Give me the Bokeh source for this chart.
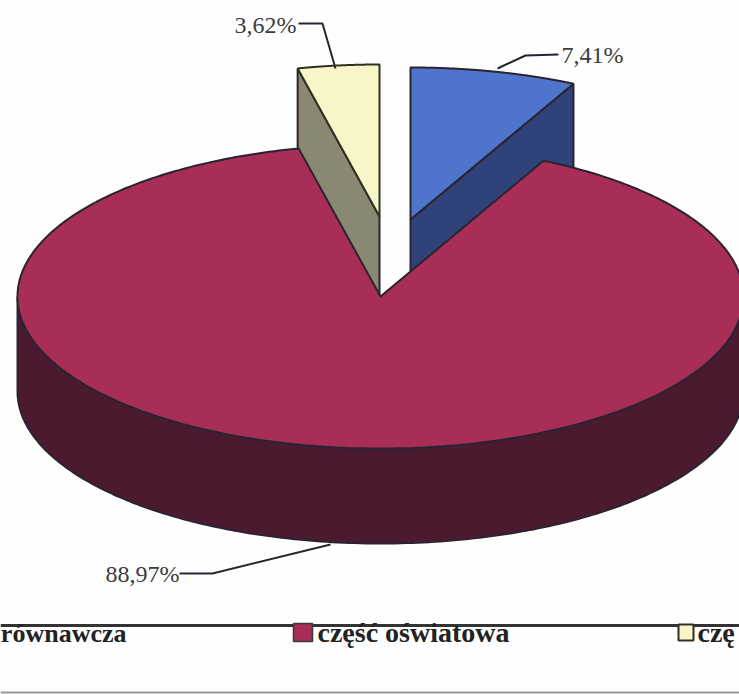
import numpy as np
from bokeh.plotting import figure
from bokeh.models import Range1d
from bokeh.core.properties import value
from bokeh.embed import file_html
from bokeh.resources import INLINE

# data
categories = ["część wyrównawcza", "część oświatowa", "część"]
shares = [7.41, 88.97, 3.62]
share_labels = ["7,41%", "88,97%", "3,62%"]

# colours
TOP = ["#4f74cc", "#a82d57", "#f8f6c9"]
CUT = ["#2f4279", "#4c1a30", "#8a8873"]
EDGE = "#2b2430"
TXT = "#3c3c3c"

# projection of the pie on the page
RX, RY, DEPTH = 363, 152, 95
CENTER = (380, 296)
OFFSET = [(30, -77), None, (-1, -80)]

p = figure(width=739, height=694, output_backend="svg", toolbar_location=None,
           x_range=Range1d(0, 739), y_range=Range1d(694, 0),
           x_axis_type=None, y_axis_type=None, min_border=0,
           outline_line_color=None, background_fill_color="#fefefe",
           border_fill_color="#fefefe")
p.grid.visible = False

ends = np.cumsum(shares) / sum(shares) * 2 * np.pi
starts = np.concatenate([[0], ends[:-1]])


def pt(c, a):
    a = np.asarray(a, dtype=float)
    return c[0] + RX * np.sin(a), c[1] - RY * np.cos(a)


def arc(c, a0, a1, n=200):
    return pt(c, np.linspace(a0, a1, n))


c = (CENTER[0] + OFFSET[0][0], CENTER[1] + OFFSET[0][1])
ex, ey = pt(c, ends[0])
p.patch([c[0], ex, ex, c[0]], [c[1], ey, ey + DEPTH, c[1] + DEPTH],
        fill_color=CUT[0], line_color=EDGE, line_width=2)
ax, ay = arc(c, starts[0], ends[0])
p.patch(np.r_[c[0], ax], np.r_[c[1], ay], fill_color=TOP[0], line_color=EDGE, line_width=2)

c = (CENTER[0] + OFFSET[2][0], CENTER[1] + OFFSET[2][1])
sx, sy = pt(c, starts[2])
p.patch([c[0], sx, sx, c[0]], [c[1], sy, sy + DEPTH, c[1] + DEPTH],
        fill_color=CUT[2], line_color=EDGE, line_width=2)
ax, ay = arc(c, starts[2], ends[2])
p.patch(np.r_[c[0], ax], np.r_[c[1], ay], fill_color=TOP[2], line_color="#2f3020", line_width=2)

rx0, ry0 = arc(CENTER, np.pi / 2, 3 * np.pi / 2)
p.patch(np.r_[rx0, rx0[::-1]], np.r_[ry0, ry0[::-1] + DEPTH],
        fill_color=CUT[1], line_color=EDGE, line_width=2)
ax, ay = arc(CENTER, starts[1], ends[1], 400)
p.patch(np.r_[CENTER[0], ax], np.r_[CENTER[1], ay],
        fill_color=TOP[1], line_color=EDGE, line_width=2)

p.line([298, 322, 335], [23, 23, 68], line_color=EDGE, line_width=2)
p.line([497, 525, 558], [68, 55, 54], line_color=EDGE, line_width=2)
p.line([179, 212, 330], [573, 573, 544], line_color=EDGE, line_width=2)

font = value("Liberation Serif")
p.text([296], [24], text=[share_labels[2]], text_align="right", text_baseline="middle",
       text_font=font, text_font_size="24px", text_color=TXT)
p.text([561], [54], text=[share_labels[0]], text_align="left", text_baseline="middle",
       text_font=font, text_font_size="24px", text_color=TXT)
p.text([179], [573], text=[share_labels[1]], text_align="right", text_baseline="middle",
       text_font=font, text_font_size="24px", text_color=TXT)

p.line([0, 739], [625, 625], line_color="#333333", line_width=3)
p.line([0, 739], [692, 692], line_color="#999999", line_width=2)
p.quad(left=[293], right=[312], top=[623], bottom=[641],
       fill_color=TOP[1], line_color="#3a3a3a", line_width=1.5)
p.quad(left=[678], right=[693], top=[624], bottom=[640],
       fill_color=TOP[2], line_color="#2f3020", line_width=2)
p.text([126], [633], text=["równawcza"], text_align="right", text_baseline="middle",
       text_font=font, text_font_size="26px", text_font_style="bold", text_color="#222222")
p.text([317], [632], text=[categories[1]], text_align="left", text_baseline="middle",
       text_font=font, text_font_size="28px", text_font_style="bold", text_color="#222222")
p.text([697], [632], text=["czę"], text_align="left", text_baseline="middle",
       text_font=font, text_font_size="28px", text_font_style="bold", text_color="#222222")

open("out.html", "w").write(file_html(p, INLINE))
